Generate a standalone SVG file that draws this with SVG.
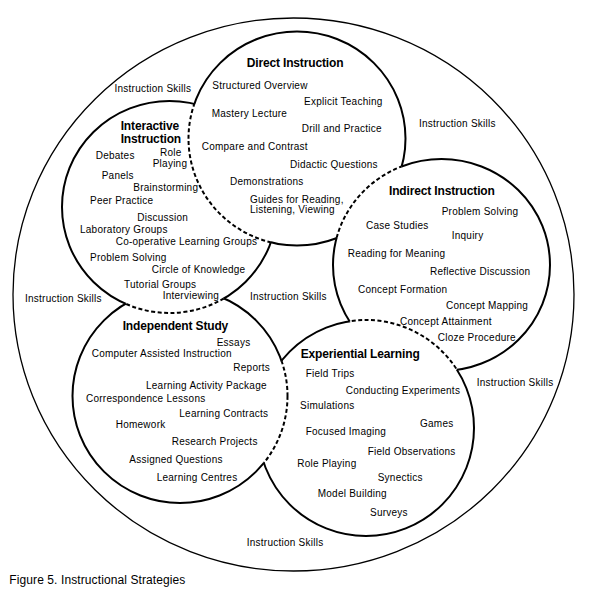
<svg xmlns="http://www.w3.org/2000/svg" width="590" height="594" viewBox="0 0 590 594">
<style>
  text { font-family: "Liberation Sans", Arial, sans-serif; font-size: 10px; letter-spacing: 0.25px; fill: #000; }
  .t { font-size: 12px; font-weight: bold; letter-spacing: -0.15px; }
  .cap { font-size: 12px; letter-spacing: 0.1px; }
  .solid { fill: none; stroke: #000; stroke-width: 2; }
  .dash { fill: none; stroke: #000; stroke-width: 2; stroke-dasharray: 4 2.5; }
  .outer { fill: none; stroke: #000; stroke-width: 1.3; }
</style>
<defs>
  <ellipse id="e-dir" cx="297" cy="138.5" rx="108.5" ry="107"/>
  <ellipse id="e-int" cx="169.5" cy="207" rx="107.5" ry="106"/>
  <ellipse id="e-ind" cx="441.5" cy="265" rx="108.5" ry="106"/>
  <ellipse id="e-isd" cx="180" cy="396" rx="107.5" ry="107"/>
  <ellipse id="e-exp" cx="366" cy="428" rx="108" ry="108"/>
  <clipPath id="in-dir"><use href="#e-dir"/></clipPath>
  <clipPath id="in-int"><use href="#e-int"/></clipPath>
  <clipPath id="in-ind"><use href="#e-ind"/></clipPath>
  <clipPath id="in-isd"><use href="#e-isd"/></clipPath>
  <clipPath id="in-exp"><use href="#e-exp"/></clipPath>
  <mask id="m-dir" maskUnits="userSpaceOnUse" x="0" y="0" width="590" height="594">
    <rect width="590" height="594" fill="#fff"/>
    <use href="#e-int" fill="#000"/><use href="#e-ind" fill="#000"/>
  </mask>
  <mask id="m-int" maskUnits="userSpaceOnUse" x="0" y="0" width="590" height="594">
    <rect width="590" height="594" fill="#fff"/>
    <use href="#e-isd" fill="#000"/><use href="#e-dir" fill="#000"/>
  </mask>
  <mask id="m-isd" maskUnits="userSpaceOnUse" x="0" y="0" width="590" height="594">
    <rect width="590" height="594" fill="#fff"/>
    <use href="#e-exp" fill="#000"/><use href="#e-int" fill="#000"/>
  </mask>
  <mask id="m-exp" maskUnits="userSpaceOnUse" x="0" y="0" width="590" height="594">
    <rect width="590" height="594" fill="#fff"/>
    <use href="#e-ind" fill="#000"/><use href="#e-isd" fill="#000"/>
  </mask>
  <mask id="m-ind" maskUnits="userSpaceOnUse" x="0" y="0" width="590" height="594">
    <rect width="590" height="594" fill="#fff"/>
    <use href="#e-dir" fill="#000"/><use href="#e-exp" fill="#000"/>
  </mask>
</defs>
<rect width="590" height="594" fill="#fff"/>

<g id="instruction-skills">
  <ellipse class="outer" cx="293.5" cy="294.5" rx="280.5" ry="276.5"/>
  <text x="114.5" y="91.5">Instruction Skills</text>
  <text x="419" y="127.3">Instruction Skills</text>
  <text x="25" y="301.7">Instruction Skills</text>
  <text x="250" y="299.7">Instruction Skills</text>
  <text x="476.7" y="385.7">Instruction Skills</text>
  <text x="246.7" y="545.7">Instruction Skills</text>
</g>

<g id="direct-instruction">
  <use href="#e-dir" class="solid" mask="url(#m-dir)"/>
  <use href="#e-dir" class="dash" clip-path="url(#in-int)"/>
  <text class="t" x="246.7" y="67.3">Direct Instruction</text>
  <text x="212.3" y="89">Structured Overview</text>
  <text x="304" y="104.7">Explicit Teaching</text>
  <text x="211.7" y="116.7">Mastery Lecture</text>
  <text x="301.7" y="132.3">Drill and Practice</text>
  <text x="201.7" y="150.3">Compare and Contrast</text>
  <text x="290" y="168.3">Didactic Questions</text>
  <text x="230" y="185">Demonstrations</text>
  <text x="250" y="202.8">Guides for Reading,</text>
  <text x="250" y="213.3">Listening, Viewing</text>
</g>

<g id="interactive-instruction">
  <use href="#e-int" class="solid" mask="url(#m-int)"/>
  <use href="#e-int" class="dash" clip-path="url(#in-isd)"/>
  <text class="t" x="120.7" y="130">Interactive</text>
  <text class="t" x="120.7" y="143.3">Instruction</text>
  <text x="95.7" y="158.8">Debates</text>
  <text x="160" y="155.8">Role</text>
  <text x="152.7" y="166.8">Playing</text>
  <text x="101.7" y="178.8">Panels</text>
  <text x="133.3" y="191">Brainstorming</text>
  <text x="90" y="204.3">Peer Practice</text>
  <text x="137.3" y="220.7">Discussion</text>
  <text x="80" y="232.7">Laboratory Groups</text>
  <text x="115.7" y="245">Co-operative Learning Groups</text>
  <text x="90" y="260.7">Problem Solving</text>
  <text x="151.7" y="272.7">Circle of Knowledge</text>
  <text x="124" y="288.3">Tutorial Groups</text>
  <text x="162.7" y="299">Interviewing</text>
</g>

<g id="indirect-instruction">
  <use href="#e-ind" class="solid" mask="url(#m-ind)"/>
  <use href="#e-ind" class="dash" clip-path="url(#in-dir)"/>
  <text class="t" x="389" y="195">Indirect Instruction</text>
  <text x="441.7" y="215">Problem Solving</text>
  <text x="366" y="228.7">Case Studies</text>
  <text x="451.7" y="239">Inquiry</text>
  <text x="347.7" y="257">Reading for Meaning</text>
  <text x="430" y="274.7">Reflective Discussion</text>
  <text x="358" y="292.7">Concept Formation</text>
  <text x="446" y="309">Concept Mapping</text>
  <text x="400" y="325">Concept Attainment</text>
  <text x="437.7" y="340.7">Cloze Procedure</text>
</g>

<g id="independent-study">
  <use href="#e-isd" class="solid" mask="url(#m-isd)"/>
  <use href="#e-isd" class="dash" clip-path="url(#in-exp)"/>
  <text class="t" x="122.7" y="330">Independent Study</text>
  <text x="216.7" y="345.7">Essays</text>
  <text x="91.7" y="356.7">Computer Assisted Instruction</text>
  <text x="233.3" y="371">Reports</text>
  <text x="146" y="389">Learning Activity Package</text>
  <text x="86" y="401.7">Correspondence Lessons</text>
  <text x="179.3" y="417">Learning Contracts</text>
  <text x="115.7" y="428.3">Homework</text>
  <text x="171.7" y="444.7">Research Projects</text>
  <text x="129.3" y="462.7">Assigned Questions</text>
  <text x="156.7" y="480.7">Learning Centres</text>
</g>

<g id="experiential-learning">
  <use href="#e-exp" class="solid" mask="url(#m-exp)"/>
  <use href="#e-exp" class="dash" clip-path="url(#in-ind)"/>
  <text class="t" x="300.7" y="358.3">Experiential Learning</text>
  <text x="305.7" y="376.7">Field Trips</text>
  <text x="345.7" y="394.3">Conducting Experiments</text>
  <text x="300" y="409">Simulations</text>
  <text x="420" y="426.7">Games</text>
  <text x="305.7" y="435">Focused Imaging</text>
  <text x="367.7" y="454.7">Field Observations</text>
  <text x="297.3" y="466.7">Role Playing</text>
  <text x="377.7" y="480.7">Synectics</text>
  <text x="317.7" y="496.7">Model Building</text>
  <text x="370" y="516">Surveys</text>
</g>

<text class="cap" x="9.3" y="584.3">Figure 5. Instructional Strategies</text>
</svg>
